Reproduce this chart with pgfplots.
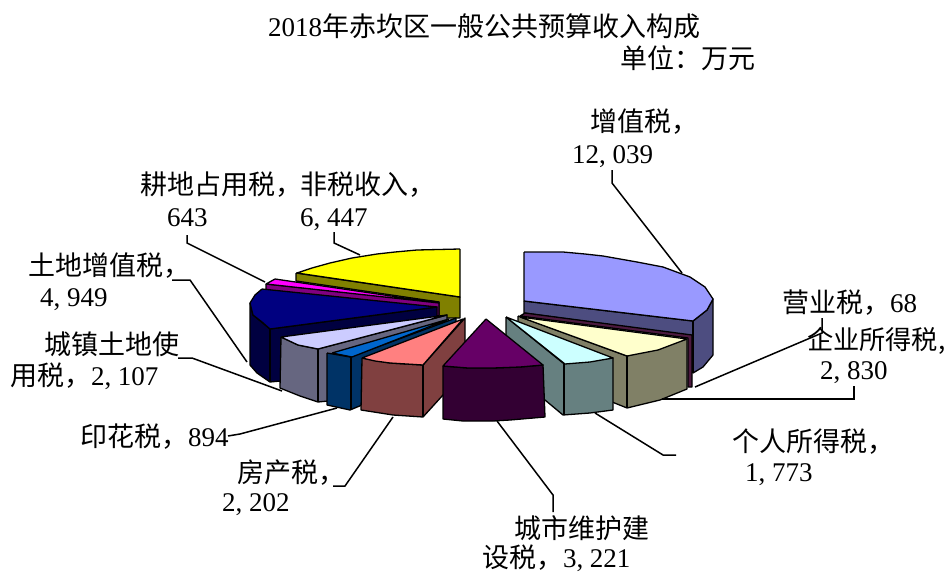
\documentclass[border=0pt]{standalone}
\usepackage{fontspec}
\usepackage{pgfplots}
\pgfplotsset{compat=1.18}
\newfontfamily\cjk{Noto Sans CJK SC}
\newfontfamily\numf{Liberation Serif}
\newcommand{\C}[1]{{\cjk\fontsize{27}{30}\selectfont #1}}
\newcommand{\Cs}[1]{{\cjk\fontsize{26.2}{30}\selectfont #1}}
\newcommand{\N}[1]{{\numf\fontsize{27}{30}\selectfont #1}}
\newcommand{\cm}{\makebox[13.5pt][l]{,}}
\newcommand{\fc}{\char"FF0C\relax}
\newcommand{\fd}{\char"FF1A\relax}
\newcommand{\lab}[3]{\node[anchor=base west,inner sep=0pt,outer sep=0pt] at (axis cs:#1,#2) {#3};}
\definecolor{a1}{HTML}{9999FF}\definecolor{a1s}{HTML}{4D4D80}
\definecolor{a2s}{HTML}{4D1A40}
\definecolor{a3}{HTML}{FFFFCC}\definecolor{a3s}{HTML}{808066}
\definecolor{a4}{HTML}{CCFFFF}\definecolor{a4s}{HTML}{668080}
\definecolor{a5}{HTML}{660066}\definecolor{a5s}{HTML}{330033}
\definecolor{a6}{HTML}{FF8080}\definecolor{a6s}{HTML}{804040}
\definecolor{a7}{HTML}{0066CC}\definecolor{a7s}{HTML}{003366}
\definecolor{a8}{HTML}{CCCCFF}\definecolor{a8s}{HTML}{666680}
\definecolor{a9}{HTML}{000080}\definecolor{a9s}{HTML}{000040}
\definecolor{a10}{HTML}{FF00FF}\definecolor{a10s}{HTML}{800080}
\definecolor{a11}{HTML}{FFFF00}\definecolor{a11s}{HTML}{808000}
\pgfplotsset{
 sl/.style={draw=black,line width=1.3pt,line join=round,fill=#1,mark=none},
 ld/.style={draw=black,line width=1.5pt,line join=miter,mark=none,no markers}}
\begin{document}
\begin{tikzpicture}
\path[use as bounding box] (0,0) rectangle (949pt,572pt);
\begin{axis}[x=1pt,y=1pt,xmin=0,xmax=949,ymin=0,ymax=572,y dir=reverse,
  hide axis,clip=false,scale only axis,anchor=south west,at={(0,0)}]
% non-tax revenue
\addplot[sl=a11s] coordinates {(296,273)(460,297)(460,318)(439,318)(439,302)(296,281)(296,273)};
\addplot[sl=a11] coordinates {(460,249)(417,250)(395,252)(377,254)(352,258)(330,263)(312,268)(297,273)(460,297)(460,249)};
% farmland tax
\addplot[sl=a10s] coordinates {(266,284)(439,302)(439,316)(266,291)(266,284)};
\addplot[sl=a10] coordinates {(275,279)(266,284)(439,303)(275,279)};
% land appreciation tax
\addplot[sl=a9s] coordinates {(250,303)(253,315)(270,329)(437,307)(437,318)(281,338)(281,381)(270,382)(257,373)(250,365)(250,303)};
\addplot[sl=a9] coordinates {(262,289)(255,295)(250,303)(253,315)(262,322)(270,329)(437,307)(262,289)};
\addplot[ld] coordinates {(270,329)(270,382)};
% urban land use tax
\addplot[sl=a8s] coordinates {(281,337)(298,345)(318,349)(447,315)(447,321)(328,356)(328,401)(318,402)(300,396)(280,388)(281,337)};
\addplot[ld] coordinates {(318,349)(318,402)};
\addplot[sl=a8] coordinates {(281,337)(298,345)(318,349)(447,315)(281,337)};
% stamp tax
\addplot[sl=a7s] coordinates {(327,353)(350,357)(456,318)(456,322)(362,368)(362,405)(350,410)(327,405)(327,353)};
\addplot[ld] coordinates {(351,357)(351,410)};
\addplot[sl=a7] coordinates {(332,353)(352,357)(449,319)(332,353)};
% property tax
\addplot[sl=a6s] coordinates {(362,358)(390,363)(423,365)(465,318)(465,365)(443,395)(423,417)(393,415)(361,410)(362,358)};
\addplot[ld] coordinates {(423,365)(423,417)};
\addplot[sl=a6] coordinates {(362,358)(375,361)(390,363)(423,365)(463,319)(362,358)};
% right-hand slices, back to front
\addplot[sl=a1s] coordinates {(524,301)(693,321)(707,310)(713,299)(713,355)(703,367)(693,373)(692,336)(524,313)(524,301)};
\addplot[ld] coordinates {(693,321)(693,373)};
\addplot[sl=a1] coordinates {(524,252)(563,252)(585,254)(603,256)(620,259)(637,262)(663,267)(690,277)(705,287)(713,299)(707,310)(693,321)(524,301)(524,252)};
\addplot[sl=a2s] coordinates {(525,313)(692,335)(692,387)(688,387)(688,338)(520,316)(525,313)};
\addplot[sl=a3s] coordinates {(518,316)(627,356)(687,339)(687,389)(660,400)(627,408)(612,402)(518,345)(518,316)};
\addplot[ld] coordinates {(627,356)(627,408)};
\addplot[sl=a3] coordinates {(520,317)(687,339)(658,350)(627,356)(520,317)};
\addplot[sl=a4s] coordinates {(506,317)(563,363)(613,358)(613,410)(590,413)(563,415)(545,400)(506,370)(506,317)};
\addplot[ld] coordinates {(564,363)(564,415)};
\addplot[sl=a4] coordinates {(506,317)(613,358)(590,362)(565,364)(506,317)};
% city maintenance tax
\addplot[sl=a5s] coordinates {(443,366)(468,368)(493,368)(520,367)(543,365)(545,417)(510,420)(493,421)(463,421)(443,419)(443,366)};
\addplot[sl=a5] coordinates {(486,319)(443,366)(468,368)(493,368)(520,367)(543,365)(486,319)};
% leader lines
\addplot[ld] coordinates {(612,170)(612,183)(682,273)};
\addplot[ld] coordinates {(695,387)(822,333)(822,318)};
\addplot[ld] coordinates {(662,399)(854,399)(854,386)};
\addplot[ld] coordinates {(595,413)(663,455)(676,455)};
\addplot[ld] coordinates {(497,421)(553,495)(553,512)};
\addplot[ld] coordinates {(393,417)(345,486)(333,486)};
\addplot[ld] coordinates {(228,436)(240,434)(337,408)};
\addplot[ld] coordinates {(178,358)(192,358)(282,391)};
\addplot[ld] coordinates {(172,280)(190,280)(247,362)};
\addplot[ld] coordinates {(187,235)(187,243)(265,282)};
\addplot[ld] coordinates {(334,232)(334,243)(360,255)};
% texts
\lab{268}{37}{\N{2018}\C{年赤坎区一般公共预算收入构成}}
\lab{620}{69}{\C{单位\fd 万元}}
\lab{590}{132}{\C{增值税\fc}}
\lab{572}{164}{\N{12\cm 039}}
\lab{140}{194}{\C{耕地占用税\fc}}
\lab{300}{194}{\C{非税收入\fc}}
\lab{167}{226}{\N{643}}
\lab{300}{226}{\N{6\cm 447}}
\lab{28}{275}{\C{土地增值税\fc}}
\lab{40}{306}{\N{4\cm 949}}
\lab{44}{354}{\C{城镇土地使}}
\lab{10}{385}{\C{用税\fc}\N{2\cm 107}}
\lab{80}{446}{\C{印花税\fc}\N{894}}
\lab{237}{482}{\C{房产税\fc}}
\lab{222}{511}{\N{2\cm 202}}
\lab{514}{538}{\C{城市维护建}}
\lab{482}{567}{\C{设税\fc}\N{3\cm 221}}
\lab{732}{451}{\C{个人所得税\fc}}
\lab{745}{481}{\N{1\cm 773}}
\lab{782}{312}{\C{营业税\fc}\N{68}}
\lab{807}{349}{\Cs{企业所得税,}}
\lab{820}{379}{\N{2\cm 830}}
\end{axis}
\end{tikzpicture}
\end{document}
